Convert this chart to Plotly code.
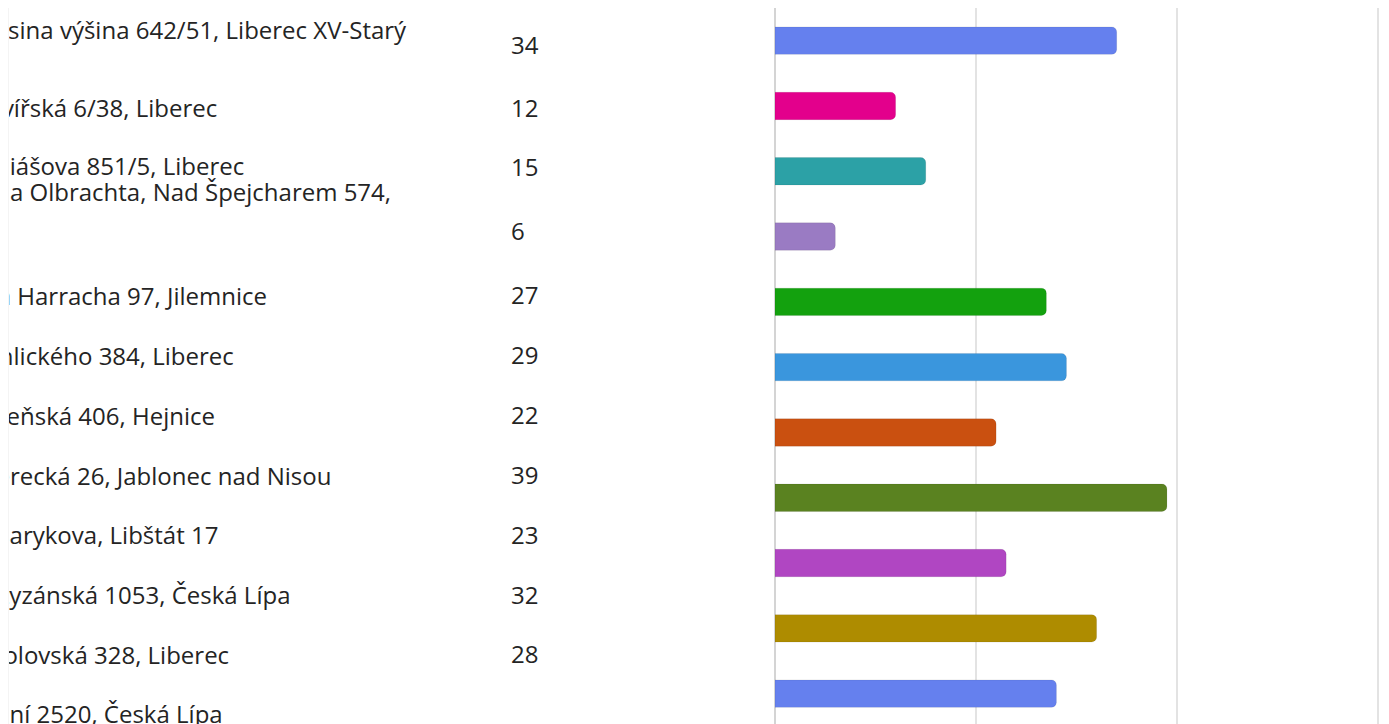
import plotly.graph_objects as go

# ---------------- data ----------------
labels = [
    "Gymnázium, Prosina výšina 642/51, Liberec XV-Starý<br>Harcov",
    "Gymnázium Barvířská 6/38, Liberec",
    "Gymnázium Dobiášova 851/5, Liberec",
    "Gymnázium Ivana Olbrachta, Nad Špejcharem 574,<br>Semily",
    "Gymnázium Jana Harracha 97, Jilemnice",
    "Gymnázium Vrchlického 384, Liberec",
    "Gymnázium, Lázeňská 406, Hejnice",
    "Gymnázium Liberecká 26, Jablonec nad Nisou",
    "Gymnázium Masarykova, Libštát 17",
    "Gymnázium Partyzánská 1053, Česká Lípa",
    "Gymnázium Sokolovská 328, Liberec",
    "Gymnázium Školní 2520, Česká Lípa",
]
values = [34, 12, 15, 6, 27, 29, 22, 39, 23, 32, 28]
bar_colors = ["#6580EE", "#E3008C", "#2CA1A6", "#9A7BC3", "#13A10E", "#3A96DD",
              "#CA5010", "#5A8220", "#B046C2", "#AE8C00", "#6580EE"]
x_ticks = [0, 20, 40, 60]

# ---------------- layout constants (figure pixels) ----------------
W, H = 1381, 716
FONT = "Open Sans, Noto Sans, sans-serif"
FS = 24
TEXT_COLOR = "#242424"
LINE = 1.3 * FS
label_left = -185          # left edge of the (partly hidden) label column
number_left = 503
label_first_line_y = [25, 103, 161, 187, 291, 351, 411, 471, 530, 590, 650, 709]
number_y = [40, 103, 162, 226, 290, 350, 410, 470, 530, 590, 649]
clip_left = 1
text_right = 760
bar_left = 767
px_per_unit = 10.05
x_max = 60.5
slot_px = 65.3

label_y = [y + t.count("<br>") * LINE / 2 for y, t in zip(label_first_line_y, labels)]

fig = go.Figure()

# label column
fig.add_trace(go.Scatter(
    x=[label_left] * len(labels), y=label_y, text=labels, mode="text",
    textposition="middle right", cliponaxis=True,
    textfont=dict(family=FONT, size=FS, color=TEXT_COLOR),
    xaxis="x2", yaxis="y2", hoverinfo="skip", showlegend=False,
))
# number column
fig.add_trace(go.Scatter(
    x=[number_left] * len(values), y=number_y, text=[str(v) for v in values],
    mode="text", textposition="middle right", cliponaxis=True,
    textfont=dict(family=FONT, size=FS, color=TEXT_COLOR),
    xaxis="x2", yaxis="y2", hoverinfo="skip", showlegend=False,
))

# bars
fig.add_trace(go.Bar(
    x=values, y=list(range(len(values))), orientation="h",
    marker=dict(color=bar_colors, line=dict(color="rgba(0,0,0,0.08)", width=1)),
    width=0.42, xaxis="x", yaxis="y", showlegend=False,
))

n_slots = H / slot_px
bar_right = bar_left + x_max * px_per_unit
fig.update_layout(
    width=W, height=H,
    margin=dict(l=0, r=0, t=0, b=0),
    paper_bgcolor="white", plot_bgcolor="rgba(0,0,0,0)",
    barcornerradius=5,
    xaxis=dict(domain=[bar_left / W, bar_right / W], range=[0, x_max],
               tickvals=x_ticks, showticklabels=False, showgrid=True,
               gridcolor="#e3e3e3", gridwidth=1.5, zeroline=True,
               zerolinecolor="#d4d4d4", zerolinewidth=1.5, showline=False,
               fixedrange=True),
    yaxis=dict(domain=[0, 1], range=[n_slots - 0.5, -0.5],
               showticklabels=False, showgrid=False, zeroline=False,
               fixedrange=True),
    xaxis2=dict(domain=[clip_left / W, text_right / W], range=[clip_left, text_right],
                visible=False, fixedrange=True),
    yaxis2=dict(domain=[0, 1], range=[H, 0], visible=False, fixedrange=True,
                anchor="x2"),
    shapes=[
        dict(type="rect", xref="paper", yref="paper", x0=0, x1=clip_left / W,
             y0=0, y1=1, fillcolor="#f4f4f4", line=dict(width=0), layer="below"),
    ],
)

fig.write_html("out.html")
